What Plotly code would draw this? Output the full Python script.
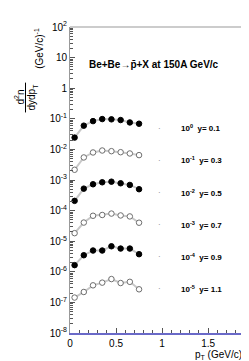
import plotly.graph_objects as go

# ---- data ----
pt = [0.05, 0.15, 0.25, 0.35, 0.45, 0.55, 0.65, 0.75]
rapidity = [0.1, 0.3, 0.5, 0.7, 0.9, 1.1]
scale_exp = [0, -1, -2, -3, -4, -5]
spec_y01 = [0.0243, 0.0597, 0.084, 0.098, 0.096, 0.091, 0.076, 0.069]
spec_y03 = [0.0216, 0.0546, 0.0794, 0.092, 0.0875, 0.081, 0.0736, 0.065]
spec_y05 = [0.0208, 0.0522, 0.0725, 0.0842, 0.0881, 0.0781, 0.0689, 0.050]
spec_y07 = [0.0183, 0.0407, 0.0678, 0.072, 0.080, 0.0694, 0.0645, 0.0402]
spec_y09 = [0.0165, 0.0348, 0.0496, 0.0496, 0.0683, 0.0575, 0.0575, 0.0376]
spec_y11 = [0.0144, 0.0219, 0.0361, 0.0442, 0.0579, 0.043, 0.047, 0.0268]
spectra = [spec_y01, spec_y03, spec_y05, spec_y07, spec_y09, spec_y11]
filled = [True, False, True, False, True, False]

ytick_exp = list(range(-8, 3))
ytick_text = []
for e in ytick_exp:
    if e == 0:
        ytick_text.append("1")
    elif e == 1:
        ytick_text.append("10")
    else:
        ytick_text.append("10<sup>%d</sup>" % e)
xtick_vals = [0, 0.5, 1, 1.5]
xtick_text = ["0", "0.5", "1", "1.5"]

W, H = 249, 361
L, R, T, B = 62, 13, 17, 36
PW, PH = W - L - R, H - T - B


def px(x):
    return (x - L) / PW


def py(y):
    return (H - B - y) / PH


FONT = "Liberation Sans, Arial, sans-serif"

fig = go.Figure()
for vals, e, f in zip(spectra, scale_exp, filled):
    yv = [v * 10 ** e for v in vals]
    fig.add_trace(go.Scatter(
        x=pt, y=yv, mode="lines",
        line=dict(color="#c8c8c8", width=2), hoverinfo="skip", showlegend=False))
    fig.add_trace(go.Scatter(
        x=pt, y=yv, mode="markers",
        marker=dict(size=5.5, color="black" if f else "white",
                    line=dict(color="black" if f else "#6e6e6e", width=1)),
        showlegend=False))

minor_y = [m * 10 ** e for e in range(-8, 2) for m in range(2, 10)]

fig.update_layout(
    width=W, height=H,
    margin=dict(l=L, r=R, t=T, b=B),
    paper_bgcolor="white", plot_bgcolor="white",
    font=dict(family=FONT, size=10, color="black"),
    xaxis=dict(range=[0, 1.89], tickvals=xtick_vals, ticktext=xtick_text,
               ticks="inside", ticklen=5, tickcolor="#555", tickwidth=1,
               showline=True, linecolor="#6a6ac8", linewidth=1.5,
               showgrid=False, zeroline=False,
               minor=dict(ticks="inside", ticklen=3, dtick=0.1, tickcolor="#555", showgrid=False),
               tickfont=dict(size=10, family=FONT)),
    yaxis=dict(type="log", range=[-8, 2],
               tickvals=[10 ** e for e in ytick_exp], ticktext=ytick_text,
               ticks="inside", ticklen=5, tickcolor="#555", tickwidth=1,
               showline=True, linecolor="#999", linewidth=1, mirror=True,
               showgrid=False, zeroline=False,
               minor=dict(ticks="inside", ticklen=3, tickvals=minor_y, tickcolor="#555", showgrid=False),
               tickfont=dict(size=10, family=FONT)),
)

# top frame line
fig.add_shape(type="line", xref="paper", yref="paper", x0=0, x1=1, y0=1, y1=1,
              line=dict(color="#999", width=1))


def note(text, x, y, size=10, xanchor="center", angle=0, color="black"):
    fig.add_annotation(text=text, xref="paper", yref="paper", x=px(x), y=py(y),
                       xanchor=xanchor, yanchor="middle", textangle=angle,
                       showarrow=False, font=dict(size=size, family=FONT, color=color))


# title inside plot
note("<b>Be+Be\u2192p\u0304+X at 150A GeV/c</b>", 146, 55)

# series labels
for i, (e, r) in enumerate(zip(scale_exp, rapidity)):
    ylab = 119 + i * 32.3
    note("<b>10<sup>%d</sup>  y= %.1f</b>" % (e, r), 171, ylab, size=8, xanchor="left")
    note("\u00b7", 151, ylab, size=8, color="#777")

# y title
note("d<sup>2</sup>n", 11, 88, angle=-90)
note("dydp<sub>T</sub>", 24, 88, angle=-90)
fig.add_shape(type="line", xref="paper", yref="paper", x0=px(17.5), x1=px(17.5), y0=py(73), y1=py(103),
              line=dict(color="black", width=1))
note("(GeV/c)<sup>-1</sup>", 31, 39, angle=-90)

# x title
note("p<sub>T</sub> (GeV/c)", 236, 347, xanchor="right")

fig.write_html("out.html")
